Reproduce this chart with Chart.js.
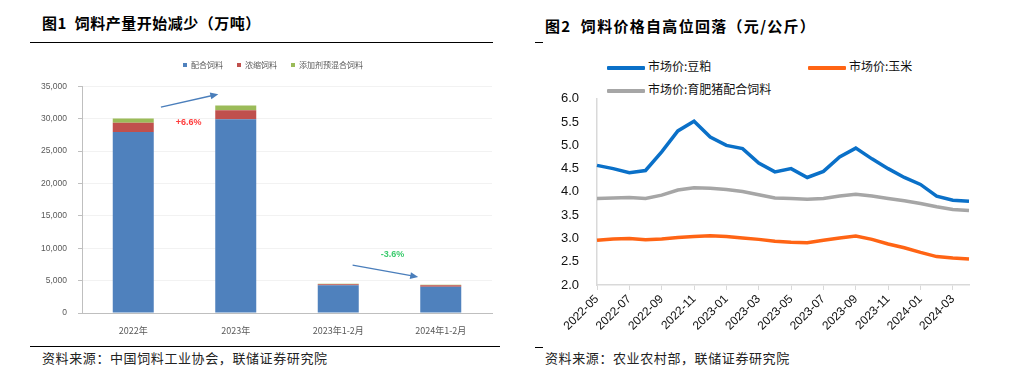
<!DOCTYPE html>
<html>
<head>
<meta charset="utf-8">
<script src="https://cdn.jsdelivr.net/npm/chart.js@4.4.1/dist/chart.umd.min.js"></script>
<style>
  html, body { margin: 0; padding: 0; background: #fff; }
  body { width: 1009px; height: 371px; position: relative; overflow: hidden;
         font-family: "Noto Sans CJK SC", "Noto Sans", sans-serif; }
  .title { position: absolute; font-size: 15px; font-weight: bold; color: #000; white-space: nowrap; }
  .note { position: absolute; font-size: 13px; color: #222; letter-spacing: 0.6px; white-space: nowrap; }
  .rule { position: absolute; height: 1px; background: #000; }
  .box { position: absolute; }
  .leg { position: absolute; font-size: 12px; color: #111; white-space: nowrap; line-height: 14px; }
  .leg i { display: inline-block; width: 38px; height: 4px; vertical-align: middle; margin-right: 3px; border-radius: 1px; }
</style>
</head>
<body>

<div class="title" style="left:42px; top:12px; letter-spacing:0.5px;">图1&nbsp;&nbsp;饲料产量开始减少（万吨）</div>
<div class="rule" style="left:30px; top:42px; width:463px;"></div>
<div class="box" style="left:0; top:47px; width:500px; height:293px;"><canvas id="feedChart"></canvas></div>
<div class="rule" style="left:30px; top:346px; width:470px;"></div>
<div class="note" style="left:42px; top:348px;">资料来源：中国饲料工业协会，联储证券研究院</div>

<div class="title" style="left:545px; top:15px; letter-spacing:1.3px;">图2&nbsp;&nbsp;饲料价格自高位回落（元/公斤）</div>
<div class="rule" style="left:535px; top:42px; width:8px;"></div>
<div class="leg" style="left:607px; top:59px;"><i style="background:#0A70C8"></i>市场价:豆粕</div>
<div class="leg" style="left:808px; top:59px;"><i style="background:#FF6414"></i>市场价:玉米</div>
<div class="leg" style="left:607px; top:82px;"><i style="background:#A6A6A6"></i>市场价:育肥猪配合饲料</div>
<div class="box" style="left:530px; top:73px; width:479px; height:267px;"><canvas id="priceChart"></canvas></div>
<div class="rule" style="left:535px; top:347px; width:8px;"></div>
<div class="note" style="left:545px; top:348px;">资料来源：农业农村部，联储证券研究院</div>

<script>
/* ============================
   DATA - feed output (10k t)
============================ */
const barCats = ["2022年", "2023年", "2023年1-2月", "2024年1-2月"];
const compoundFeed = [27917, 29889, 4290, 4050];
const concentrateFeed = [1427, 1418, 160, 230];
const premixFeed = [653, 708, 60, 70];
const feedTicks = [0, 5000, 10000, 15000, 20000, 25000, 30000, 35000];

/* ============================
   DATA - prices (yuan/kg)
============================ */
const months = [
  "2022-05", "2022-06", "2022-07", "2022-08", "2022-09", "2022-10",
  "2022-11", "2022-12", "2023-01", "2023-02", "2023-03", "2023-04",
  "2023-05", "2023-06", "2023-07", "2023-08", "2023-09", "2023-10",
  "2023-11", "2023-12", "2024-01", "2024-02", "2024-03", "2024-04",
];
const soyMeal = [4.57, 4.50, 4.41, 4.46, 4.86, 5.31, 5.52, 5.18, 5.00, 4.93, 4.62, 4.43,
                 4.50, 4.31, 4.44, 4.75, 4.94, 4.71, 4.50, 4.31, 4.16, 3.91, 3.82, 3.80];
const corn = [2.96, 2.99, 3.00, 2.97, 2.99, 3.02, 3.04, 3.06, 3.04, 3.01, 2.98, 2.94,
              2.92, 2.91, 2.96, 3.01, 3.05, 2.98, 2.88, 2.80, 2.70, 2.61, 2.58, 2.56];
const hogFeed = [3.86, 3.87, 3.88, 3.86, 3.93, 4.04, 4.09, 4.08, 4.05, 4.01, 3.94, 3.87,
                 3.86, 3.84, 3.86, 3.91, 3.95, 3.91, 3.86, 3.81, 3.75, 3.68, 3.62, 3.60];

/* ============================
   LEFT: STACKED BARS
============================ */
const grayTxt = "#595959";

// arrows + growth labels, placed in data coords
const growthNotes = {
  id: "growthNotes",
  afterDatasetsDraw(chart) {
    const { ctx, scales: { x, y } } = chart;
    const arrow = (x0, v0, x1, v1) => {
      const ax = x.getPixelForValue(x0), ay = y.getPixelForValue(v0);
      const bx = x.getPixelForValue(x1), by = y.getPixelForValue(v1);
      const ang = Math.atan2(by - ay, bx - ax);
      ctx.save();
      ctx.strokeStyle = "#4A7EBB";
      ctx.fillStyle = "#4A7EBB";
      ctx.lineWidth = 1.3;
      ctx.beginPath();
      ctx.moveTo(ax, ay);
      ctx.lineTo(bx - 6 * Math.cos(ang), by - 6 * Math.sin(ang));
      ctx.stroke();
      ctx.beginPath();
      ctx.moveTo(bx, by);
      ctx.lineTo(bx - 8 * Math.cos(ang) + 3.5 * Math.sin(ang), by - 8 * Math.sin(ang) - 3.5 * Math.cos(ang));
      ctx.lineTo(bx - 8 * Math.cos(ang) - 3.5 * Math.sin(ang), by - 8 * Math.sin(ang) + 3.5 * Math.cos(ang));
      ctx.closePath();
      ctx.fill();
      ctx.restore();
    };
    const label = (txt, xv, yv, color) => {
      ctx.save();
      ctx.font = "bold 9px 'Liberation Sans', Arial, sans-serif";
      ctx.fillStyle = color;
      ctx.textAlign = "center";
      ctx.textBaseline = "middle";
      ctx.fillText(txt, x.getPixelForValue(xv), y.getPixelForValue(yv));
      ctx.restore();
    };
    arrow(0.27, 31760, 0.83, 33770);
    label("+6.6%", 0.54, 29450, "#FF3B3B");
    arrow(2.14, 7400, 2.78, 5550);
    label("-3.6%", 2.53, 9100, "#3CCB6E");
  },
};

// legend sits a bit right of canvas centre in the source
const legendNudge = {
  id: "legendNudge",
  afterLayout(chart) {
    chart.legend.left += 27;
    chart.legend.right += 27;
  },
};

const feedCtx = document.getElementById("feedChart").getContext("2d");
new Chart(feedCtx, {
  type: "bar",
  data: {
    labels: barCats,
    datasets: [
      { label: "配合饲料", data: compoundFeed, backgroundColor: "#4F81BD" },
      { label: "浓缩饲料", data: concentrateFeed, backgroundColor: "#C0504D" },
      { label: "添加剂预混合饲料", data: premixFeed, backgroundColor: "#9BBB59" },
    ],
  },
  options: {
    responsive: true,
    maintainAspectRatio: false,
    animation: false,
    layout: { padding: { left: 0, right: 8, top: 0, bottom: 0 } },
    datasets: { bar: { categoryPercentage: 0.8, barPercentage: 0.5 } },
    plugins: {
      legend: {
        position: "top",
        labels: {
          boxWidth: 4,
          boxHeight: 4,
          padding: 14,
          color: grayTxt,
          font: { size: 8, family: "'Noto Sans CJK SC', sans-serif" },
        },
      },
      // empty spacer between legend and plot
      subtitle: { display: true, text: "", weight: 500, font: { size: 1 }, padding: { top: 0, bottom: 6 } },
      tooltip: { enabled: false },
    },
    scales: {
      x: {
        stacked: true,
        grid: { display: false },
        border: { color: "#BFBFBF" },
        ticks: { color: grayTxt, font: { size: 9, family: "'Noto Sans CJK SC', sans-serif" }, padding: 4 },
        afterFit(s) { s.height = 27; },
      },
      y: {
        stacked: true,
        min: 0,
        max: 35000,
        afterBuildTicks(s) { s.ticks = feedTicks.map((v) => ({ value: v })); },
        grid: { color: "#F2F2F2", tickColor: "#BFBFBF", tickLength: 4 },
        border: { color: "#BFBFBF" },
        ticks: {
          color: grayTxt,
          padding: 11,
          font: { size: 8.5, family: "'Liberation Sans', Arial, sans-serif" },
          callback: (v) => v.toLocaleString("en-US"),
        },
        afterFit(s) { s.width = 82; },
      },
    },
  },
  plugins: [growthNotes, legendNudge],
});

/* ============================
   RIGHT: PRICE LINES
============================ */
const priceCtx = document.getElementById("priceChart").getContext("2d");
const lineStyle = { borderWidth: 3.5, pointRadius: 0, tension: 0, fill: false };
new Chart(priceCtx, {
  type: "line",
  data: {
    labels: months,
    datasets: [
      { label: "市场价:豆粕", data: soyMeal, borderColor: "#0A70C8", ...lineStyle },
      { label: "市场价:玉米", data: corn, borderColor: "#FF6414", ...lineStyle },
      { label: "市场价:育肥猪配合饲料", data: hogFeed, borderColor: "#A6A6A6", ...lineStyle },
    ],
  },
  options: {
    responsive: true,
    maintainAspectRatio: false,
    animation: false,
    layout: { padding: { left: 0, right: 40, top: 8, bottom: 0 } },
    plugins: { legend: { display: false }, tooltip: { enabled: false } },
    scales: {
      x: {
        offset: false,
        grid: {
          drawOnChartArea: false,
          tickLength: 5,
          color: (c) => (c.index % 2 === 0 ? "#D9D9D9" : "rgba(0,0,0,0)"),
        },
        border: { color: "#D9D9D9", width: 1.5 },
        ticks: {
          autoSkip: false,
          minRotation: 45,
          maxRotation: 45,
          padding: 2,
          color: "#111",
          font: { size: 12, family: "'Liberation Sans', Arial, sans-serif" },
          callback(v, i) { return i % 2 === 0 ? this.getLabelForValue(v) : ""; },
        },
        afterFit(s) { s.height = 55; },
      },
      y: {
        min: 2,
        max: 6,
        ticks: {
          stepSize: 0.5,
          padding: 18,
          color: "#111",
          font: { size: 13, family: "'Liberation Sans', Arial, sans-serif" },
          callback: (v) => v.toFixed(1),
        },
        grid: { display: false, drawTicks: false },
        border: { color: "#D9D9D9", width: 1.5 },
        afterFit(s) { s.width = 67; },
      },
    },
  },
});
</script>
</body>
</html>
